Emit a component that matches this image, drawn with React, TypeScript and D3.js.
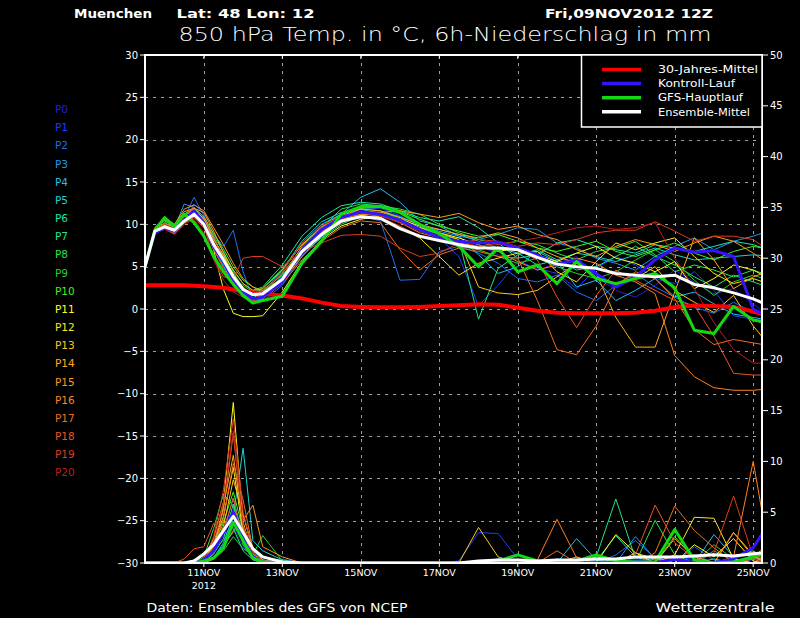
import { useEffect, useRef } from 'react';
import * as d3 from 'd3';

// forecast hours from 09NOV2012 12Z
const hours = [0, 6, 12, 18, 24, 30, 36, 42, 48, 54, 60, 66, 72, 84, 96, 108, 120, 132, 144, 156, 168, 180, 192, 204, 216, 228, 240, 252, 264, 276, 288, 300, 312, 324, 336, 348, 360, 372, 378];

// 850 hPa temperature (°C)
const tClim = [2.8, 2.8, 2.8, 2.8, 2.8, 2.75, 2.7, 2.6, 2.5, 2.3, 2.1, 1.95, 1.8, 1.6, 1.25, 0.75, 0.35, 0.25, 0.2, 0.2, 0.25, 0.35, 0.45, 0.55, 0.5, 0.15, -0.2, -0.45, -0.5, -0.5, -0.5, -0.45, -0.2, 0.2, 0.4, 0.35, 0.25, -0.3, -0.6];
const tMean = [5.0, 9.2, 9.7, 9.3, 10.4, 11.2, 10.0, 7.6, 5.8, 3.8, 2.3, 1.7, 1.8, 3.5, 6.8, 8.8, 10.4, 10.9, 10.7, 9.5, 8.6, 8.1, 7.6, 7.2, 7.2, 7.0, 6.1, 5.3, 5.0, 4.8, 4.2, 4.0, 3.8, 4.0, 2.9, 2.5, 1.9, 1.2, 0.7];
const tGfs = [5.0, 9.3, 10.8, 9.8, 11.2, 10.2, 8.6, 6.2, 4.4, 2.9, 1.6, 0.7, 1.0, 1.5, 5.4, 8.0, 11.2, 12.1, 12.1, 11.4, 10.0, 8.9, 7.4, 5.0, 7.2, 4.4, 5.2, 3.0, 5.6, 3.6, 3.0, 3.6, 4.2, 2.5, -2.5, -2.9, 0.3, -1.3, -1.5];
const tCtrl = [5.0, 9.0, 9.6, 9.2, 10.6, 11.6, 10.2, 7.4, 5.6, 3.4, 2.0, 1.2, 1.4, 3.2, 7.0, 9.4, 10.8, 11.5, 11.2, 10.5, 9.4, 8.4, 8.0, 7.8, 7.9, 7.2, 6.4, 5.2, 5.8, 4.2, 2.6, 3.8, 5.8, 7.2, 6.7, 6.9, 6.2, 0.0, -0.6];

const tP0 = [5, 9.1, 9.8, 9.2, 10.6, 11.4, 10.3, 8.0, 5.6, 3.4, 2.0, 1.4, 1.6, 3.8, 7.2, 9.3, 10.9, 11.6, 11.3, 10.4, 9.4, 8.6, 8.0, 7.6, 6.4, 5.8, 4.6, 5.4, 6.2, 3.8, 2.2, 1.4, 2.8, 4.6, 3.2, 1.8, 2.4, 0.6, -0.3];
const tP1 = [5, 9.0, 9.6, 9.0, 10.2, 12.4, 11.2, 8.6, 6.8, 3.9, 1.6, 0.8, 1.2, 3.4, 6.4, 8.8, 10.6, 11.8, 11.9, 11.0, 9.8, 8.4, 6.2, 0.4, 2.8, 5.6, 4.8, 4.2, 2.4, 4.8, 6.2, 5.2, 3.6, 3.0, 4.4, 2.2, -0.8, -1.2, -1.8];
const tP2 = [5, 9.2, 9.9, 9.4, 10.8, 13.2, 11.0, 8.8, 7.4, 9.3, 4.4, 1.2, 0.9, 2.8, 6.2, 8.5, 10.2, 11.0, 10.4, 3.4, 3.5, 6.8, 7.4, 6.6, 5.4, 3.6, 3.2, 4.0, 2.0, 1.0, 2.8, 4.2, 2.6, 1.4, 0.2, -0.5, 0.8, -0.4, -0.6];
const tP3 = [5, 9.4, 10.1, 9.6, 12.4, 12.0, 10.6, 7.8, 5.2, 3.0, 1.8, 1.0, 1.6, 3.9, 7.0, 9.1, 10.6, 11.4, 11.6, 10.9, 10.0, 9.2, 8.6, 8.2, 8.8, 9.6, 9.4, 7.8, 7.2, 6.0, 5.4, 4.6, 6.2, 7.4, 8.4, 7.0, 8.0, 8.6, 9.0];
const tP4 = [5, 9.2, 9.7, 9.1, 10.5, 11.3, 10.8, 8.4, 6.0, 4.2, 2.6, 1.6, 1.8, 4.4, 7.8, 10.0, 11.2, 13.2, 14.2, 12.6, 10.4, 9.8, 8.6, 6.4, 4.2, 5.0, 6.8, 5.6, 2.6, 3.4, 1.0, 2.2, 3.6, 1.4, 2.0, 0.6, -0.6, -1.0, -1.2];
const tP5 = [5, 8.9, 9.5, 9.3, 10.4, 11.6, 10.4, 7.2, 5.0, 3.2, 1.8, 1.3, 2.0, 4.6, 8.0, 10.3, 11.4, 11.8, 11.2, 10.2, 9.6, 9.4, 8.8, 8.0, 7.2, 6.6, 5.2, 5.8, 6.6, 6.2, 5.6, 6.4, 7.2, 6.4, 5.8, 6.0, 6.2, 6.4, 6.3];
const tP6 = [5, 9.3, 10.2, 9.5, 10.7, 11.3, 10.5, 8.2, 6.4, 4.6, 3.0, 2.2, 2.6, 5.2, 8.6, 10.8, 12.2, 12.6, 12.4, 11.6, 10.8, 10.4, 10.9, 9.6, 7.8, 6.0, 6.4, 7.8, 8.2, 7.4, 7.0, 6.6, 7.6, 7.2, 6.8, 7.4, 8.0, 7.6, 7.2];
const tP7 = [5, 9.0, 9.6, 8.9, 10.2, 10.9, 9.8, 7.4, 5.4, 3.2, 2.4, 1.8, 2.2, 4.0, 6.6, 8.4, 10.0, 11.0, 11.4, 10.8, 9.6, 8.8, 8.2, -1.2, 4.8, 6.4, 7.0, 5.8, 4.6, 5.0, 6.2, 7.4, 6.2, 5.2, 3.8, 2.6, 4.0, 3.2, 2.8];
const tP8 = [5, 9.5, 10.4, 9.7, 11.0, 11.8, 10.6, 8.6, 6.8, 4.4, 2.4, 1.6, 1.9, 4.2, 7.2, 9.6, 11.8, 12.4, 12.2, 11.8, 11.2, 10.0, 9.0, 8.2, 7.6, 8.0, 7.6, 6.6, 5.8, 6.8, 7.2, 8.0, 6.4, 4.4, 5.2, 4.6, 3.8, 4.6, 4.2];
const tP9 = [5, 9.1, 9.8, 9.0, 10.3, 11.1, 10.0, 7.6, 5.8, 3.6, 2.8, 2.0, 2.4, 4.8, 7.6, 9.8, 11.2, 11.8, 11.6, 10.6, 9.2, 8.6, 7.4, 7.0, 6.2, 5.4, 6.0, 5.0, 4.2, 3.6, 4.4, 5.8, 7.0, 5.6, 3.4, 1.6, 3.2, 4.0, 3.6];
const tP10 = [5, 9.4, 10.5, 9.8, 11.2, 11.9, 10.9, 8.9, 7.1, 5.0, 3.4, 2.6, 2.2, 3.6, 6.8, 9.0, 10.8, 11.9, 12.0, 11.5, 10.6, 9.8, 9.2, 8.6, 8.8, 8.0, 7.2, 6.8, 7.4, 8.0, 6.8, 6.2, 7.0, 7.8, 6.6, 5.8, 6.8, 7.4, 7.2];
const tP11 = [5, 9.2, 9.9, 9.2, 10.6, 11.4, 10.2, 7.0, 2.3, -0.5, -0.9, -0.9, -0.8, 2.0, 5.6, 8.2, 9.8, 10.6, 11.0, 10.6, 9.8, 9.0, 8.4, 7.6, 6.8, 7.2, 6.4, 5.6, 6.6, 7.4, 6.0, 5.4, 4.4, 5.6, 2.4, 3.6, 5.2, 4.6, 4.0];
const tP12 = [5, 9.0, 9.7, 9.3, 10.4, 11.0, 10.1, 7.8, 6.0, 4.0, 2.2, 1.2, 1.4, 3.4, 6.6, 8.8, 10.4, 11.0, 10.8, 9.6, 8.4, 6.2, 4.0, 5.4, 6.0, 6.6, 6.8, 4.4, 3.2, 5.6, 7.8, 7.0, 7.8, 8.4, 6.2, 4.2, 3.0, 3.6, 3.2];
const tP13 = [5, 9.3, 10.0, 9.4, 10.9, 11.7, 10.7, 8.3, 6.3, 4.1, 2.5, 1.6, 1.5, 3.7, 7.4, 9.7, 11.1, 11.5, 11.2, 10.4, 9.6, 9.0, 8.2, 2.6, 1.9, 1.7, 2.2, 3.8, 5.4, 4.2, 2.8, 3.6, 5.0, 2.2, 0.8, -0.4, 1.6, -2.0, -3.4];
const tP14 = [5, 9.5, 10.6, 9.9, 11.5, 11.9, 11.4, 9.2, 6.6, 4.6, 3.0, 2.2, 2.4, 4.6, 7.6, 9.6, 11.0, 11.8, 11.6, 10.8, 10.0, 9.4, 8.8, 8.4, 9.0, 8.4, 7.2, 6.2, 5.4, 4.2, -1.0, -4.5, -4.5, 2.0, 8.4, 5.8, 2.4, 3.8, 4.2];
const tP15 = [5, 9.6, 10.8, 10.0, 11.8, 12.3, 11.6, 9.6, 7.6, 5.4, 3.6, 2.6, 2.0, 3.2, 6.2, 8.6, 10.2, 11.2, 11.4, 11.6, 11.2, 10.8, 11.3, 10.2, 9.4, 9.8, 8.8, 8.2, 7.0, 6.2, 7.4, 8.2, 7.6, 6.8, 7.8, 8.6, 8.0, 6.6, 5.8];
const tP16 = [5, 9.1, 9.9, 9.1, 10.5, 11.5, 10.5, 7.9, 5.9, 3.8, 2.1, 1.3, 1.6, 3.6, 6.8, 9.0, 10.6, 11.2, 11.0, 10.2, 9.0, 8.4, 7.8, 7.4, 6.8, 5.6, 4.6, 5.2, 6.0, 5.4, 4.0, 3.2, 1.8, -5.5, -8.0, -9.3, -9.6, -9.6, -9.5];
const tP17 = [5, 9.2, 10.2, 9.6, 11.0, 12.0, 10.9, 8.4, 6.1, 3.6, 1.9, 1.0, 1.2, 3.0, 5.8, 8.0, 9.6, 10.4, 10.2, 7.0, 4.6, 6.4, 7.2, 6.8, 6.2, 6.0, 1.0, -4.8, -5.4, -2.0, 2.8, 4.4, 3.6, 1.2, -2.4, -4.2, -3.6, -4.0, -4.2];
const tP18 = [5, 9.0, 9.5, 8.9, 10.1, 10.8, 9.6, 7.0, 4.8, 3.0, 2.0, 1.6, 2.2, 4.2, 7.0, 9.2, 10.6, 11.0, 10.8, 9.8, 8.6, 8.0, 7.6, 7.4, 7.8, 7.0, 5.8, 1.4, -2.2, 1.6, 4.6, 3.4, 2.2, 1.0, 0.4, -3.2, -7.6, -7.8, -7.8];
const tP19 = [5, 9.3, 10.0, 9.5, 11.0, 11.4, 9.8, 6.0, 3.8, 3.6, 6.0, 6.2, 6.2, 5.0, 6.8, 7.8, 8.7, 8.8, 8.6, 7.2, 6.2, 6.6, 7.8, 8.2, 8.0, 7.4, 7.8, 7.6, 8.2, 9.0, 9.3, 9.3, 10.3, 9.2, 8.0, 8.6, 8.6, 8.2, 7.4];
const tP20 = [5, 9.0, 9.4, 8.8, 10.0, 10.6, 9.0, 5.8, 3.4, 2.0, 1.4, 1.2, 1.8, 4.4, 7.8, 9.8, 11.0, 11.4, 11.0, 10.2, 9.2, 8.6, 8.0, 7.4, 7.6, 8.0, 8.4, 9.0, 9.6, 9.8, 9.4, 9.6, 10.2, 6.0, 2.4, -1.6, -4.8, -6.4, -6.4];

// 6h precipitation (mm)
const rMean = [0, 0, 0, 0, 0, 0.2, 0.9, 1.8, 3.2, 4.6, 3.0, 1.4, 0.6, 0.1, 0, 0, 0, 0, 0, 0, 0, 0, 0, 0.2, 0.3, 0.3, 0.2, 0.3, 0.3, 0.4, 0.4, 0.6, 0.6, 0.6, 0.7, 0.8, 0.7, 0.9, 1.0];
const rGfs = [0, 0, 0, 0, 0, 0, 0.2, 0.5, 1.5, 4.0, 2.2, 0.5, 0.1, 0, 0, 0, 0, 0, 0, 0, 0, 0, 0, 0, 0.2, 0.8, 0.2, 0.1, 0.2, 0.8, 0.2, 0.1, 0.1, 3.3, 0.3, 0, 0.1, 0.6, 1.0];
const rCtrl = [0, 0, 0, 0, 0, 0, 0.3, 1.2, 3.0, 5.0, 2.4, 0.6, 0.1, 0, 0, 0, 0, 0, 0, 0, 0, 0, 0, 0, 0, 0, 0, 0.2, 0, 0, 0, 0.3, 0, 0.4, 0, 0, 0.4, 1.5, 3.0];

const rP0 = [0, 0, 0, 0, 0, 0, 0.2, 1.0, 2.8, 3.6, 1.6, 0.4, 0.1, 0, 0, 0, 0, 0, 0, 0, 0, 0, 0, 0, 0, 0, 0.2, 0, 0, 0, 0, 0.4, 0, 0, 0.6, 0, 0, 0.3, 0.5];
const rP1 = [0, 0, 0, 0, 0, 0, 0.1, 0.8, 3.4, 5.2, 2.0, 0.6, 0.2, 0.4, 0, 0, 0, 0, 0, 0, 0, 0, 0.2, 3.0, 2.9, 0.4, 0, 0, 0, 0.3, 0, 0, 0, 0.8, 0.2, 0, 0, 0.6, 0.2];
const rP2 = [0, 0, 0, 0, 0, 0, 0.3, 1.4, 2.2, 4.4, 3.6, 0.8, 0.2, 0, 0, 0, 0, 0, 0, 0, 0, 0, 0, 0.2, 0, 0, 0, 0.4, 0, 0, 0.8, 2.2, 0.5, 0, 1.6, 0.3, 0, 0.8, 0.4];
const rP3 = [0, 0, 0, 0, 0, 0, 0, 0.6, 1.8, 3.0, 4.8, 1.2, 0.3, 0, 0, 0, 0, 0, 0, 0, 0, 0, 0, 0, 0, 0, 0, 0, 0, 0.6, 0, 2.6, 0.4, 0, 0, 1.2, 0.2, 0, 0];
const rP4 = [0, 0, 0, 0, 0, 0, 0.2, 1.2, 3.0, 6.4, 2.4, 0.6, 0.1, 0, 0, 0, 0, 0, 0, 0, 0, 0, 0, 0, 0.4, 0.2, 0, 0, 2.4, 0.3, 0, 0, 0.6, 0, 0, 2.8, 0.6, 0.8, 0.4];
const rP5 = [0, 0, 0, 0, 0, 0, 0, 0.5, 2.0, 4.6, 11.3, 2.2, 1.2, 0.3, 0, 0, 0, 0, 0, 0, 0, 0, 0, 0, 0, 0, 0, 0.2, 0, 0, 0.4, 0, 0, 0.3, 0.8, 0, 0, 0, 0.2];
const rP6 = [0, 0, 0, 0, 0, 0.3, 0.1, 0.9, 2.4, 5.8, 2.8, 0.7, 0.2, 0, 0, 0, 0, 0, 0, 0, 0, 0, 0, 0, 0, 0, 0, 0, 0, 0.2, 2.7, 0.6, 0, 0, 0, 0.4, 0, 0.6, 0.3];
const rP7 = [0, 0, 0, 0, 0, 0.2, 0.4, 2.2, 4.2, 3.4, 1.2, 0.3, 0, 0, 0, 0, 0, 0, 0, 0, 0, 0, 0, 0, 0.2, 0, 0, 0, 0, 0.6, 6.3, 0.4, 0, 0, 0, 0, 0.3, 0, 0];
const rP8 = [0, 0, 0, 0, 0, 0, 0.6, 3.4, 6.8, 5.6, 1.8, 0.4, 0.1, 0, 0, 0, 0, 0, 0, 0, 0, 0, 0, 0, 0, 0.2, 0, 0, 0, 0, 0, 0, 4.2, 0.8, 0, 0, 0.5, 1.2, 0.6];
const rP9 = [0, 0, 0, 0, 0, 0, 0, 0.4, 1.2, 2.6, 1.4, 0.8, 2.7, 0.2, 0, 0, 0, 0, 0, 0, 0, 0, 0, 0, 0, 0, 0, 0, 0, 0, 0, 0, 0, 0.6, 0, 1.8, 0.4, 0, 0.2];
const rP10 = [0, 0, 0, 0, 0, 0, 0.2, 1.6, 4.0, 7.0, 3.2, 0.9, 0.2, 0, 0, 0, 0, 0, 0, 0, 0, 0, 0, 0, 0, 0, 0.3, 0, 0, 0, 0, 0.4, 0, 2.6, 0.4, 0, 0, 0.4, 0.8];
const rP11 = [0, 0, 0, 0, 0, 0, 0.4, 2.4, 6.0, 15.8, 4.0, 0.8, 0.2, 0, 0, 0, 0, 0, 0, 0, 0, 0, 0, 0, 0, 0, 0, 0, 0, 0, 2.8, 1.0, 0, 0, 1.8, 0.6, 2.4, 0.2, 0];
const rP12 = [0, 0, 0, 0, 0, 0, 0.3, 1.8, 4.6, 9.4, 3.0, 0.6, 0.1, 0, 0, 0, 0, 0, 0, 0, 0, 0, 0, 0, 0, 0, 0, 0.2, 0, 0, 0, 0, 0, 0.8, 4.5, 4.4, 0.4, 0, 0.6];
const rP13 = [0, 0, 0, 0, 0, 0, 0.2, 1.2, 3.6, 8.2, 4.8, 1.4, 0.3, 0, 0, 0, 0, 0, 0, 0, 0, 0, 0, 3.5, 0.6, 0, 0, 0, 0, 0, 0, 1.0, 0.4, 0, 0, 0, 3.0, 0.8, 0];
const rP14 = [0, 0, 0, 0, 0, 0, 0.1, 1.0, 5.6, 10.6, 3.6, 1.0, 0.2, 0, 0, 0, 0, 0, 0, 0, 0, 0, 0, 0, 0, 0, 0, 0, 0.6, 0, 0, 0, 0, 2.4, 0.6, 0, 0, 0.6, 1.4];
const rP15 = [0, 0, 0, 0, 0, 0, 0, 0.4, 1.6, 3.2, 4.2, 5.7, 1.6, 0.6, 0, 0, 0, 0, 0, 0, 0, 0, 0, 0, 0, 0, 0, 0, 0, 0, 0, 0, 0.4, 0, 0, 0, 3.0, 0.6, 0.2];
const rP16 = [0, 0, 0, 0, 0, 0, 0.3, 2.0, 5.2, 12.8, 3.4, 0.8, 0.2, 0, 0, 0, 0, 0, 0, 0, 0, 0, 0, 0, 0, 0, 0.3, 4.3, 0.5, 0, 0, 0, 0, 0, 0.2, 0, 0.6, 10.0, 4.5];
const rP17 = [0, 0, 0, 0, 0, 0, 0.2, 1.6, 4.4, 9.8, 6.2, 1.4, 0.2, 0, 0, 0, 0, 0, 0, 0, 0, 0, 0, 0, 0, 0, 0, 1.2, 0, 0, 0, 0, 1.0, 5.6, 3.2, 1.5, 0, 0, 0];
const rP18 = [0, 0, 0, 0, 0.4, 1.4, 1.6, 3.9, 3.2, 6.4, 2.0, 0.5, 0.1, 0, 0, 0, 0, 0, 0, 0, 0, 0, 0, 0, 0, 0, 0, 0, 0, 0, 0, 0.8, 5.7, 2.0, 0.4, 0, 0, 0.4, 0];
const rP19 = [0, 0, 0, 0, 0, 0, 0.4, 2.6, 7.2, 14.2, 5.0, 1.0, 0.2, 0, 0, 0, 0, 0, 0, 0, 0, 0, 0, 0, 0, 0, 0, 0, 0, 0, 0, 0, 0, 0.4, 0, 1.0, 6.6, 0.6, 0];
const rP20 = [0, 0, 0, 0, 0, 0, 0.3, 2.2, 6.0, 13.0, 3.8, 0.8, 0.1, 0, 0, 0, 0, 0, 0, 0, 0, 0, 0, 0, 0, 0, 0, 0, 0, 0, 0, 0, 0, 0.6, 0, 0, 0.4, 1.0, 0.3];

const memberNames = ['P0', 'P1', 'P2', 'P3', 'P4', 'P5', 'P6', 'P7', 'P8', 'P9', 'P10', 'P11', 'P12', 'P13', 'P14', 'P15', 'P16', 'P17', 'P18', 'P19', 'P20'];
const memberColors = ['#2a1ed2', '#1e3cff', '#1e6ef0', '#1e96f0', '#1ebef0', '#1ed2d2', '#1ee6a0', '#1ee682', '#28e646', '#28d228', '#46f01e', '#ffff1e', '#ffe61e', '#ffc81e', '#ffaa1e', '#ff961e', '#ff821e', '#f06e1e', '#f05028', '#dc3c1e', '#be1e1e'];
const memberTemps = [tP0, tP1, tP2, tP3, tP4, tP5, tP6, tP7, tP8, tP9, tP10, tP11, tP12, tP13, tP14, tP15, tP16, tP17, tP18, tP19, tP20];
const memberRain = [rP0, rP1, rP2, rP3, rP4, rP5, rP6, rP7, rP8, rP9, rP10, rP11, rP12, rP13, rP14, rP15, rP16, rP17, rP18, rP19, rP20];

const legendLabels = ['30-Jahres-Mittel', 'Kontroll-Lauf', 'GFS-Hauptlauf', 'Ensemble-Mittel'];
const legendColors = ['#ff0000', '#3214ff', '#14d814', '#ffffff'];
const legendWidths = [100, 77, 85, 92];

export default function App() {
  const svgRef = useRef<SVGSVGElement>(null);

  useEffect(() => {
    if (!svgRef.current) return;
    const width = 800;
    const height = 618;
    const m = { left: 145, right: 762, top: 55, bottom: 563 };
    const font = 'DejaVu Sans, sans-serif';

    const svg = d3.select(svgRef.current);
    svg.selectAll('*').remove();
    svg.attr('width', width).attr('height', height).style('font-family', font);

    const t0 = Date.UTC(2012, 10, 9, 12);
    const toDate = (h: number) => new Date(t0 + h * 3600 * 1000);

    const x = d3.scaleUtc().domain([toDate(0), toDate(378)]).range([m.left, 763]);
    const yT = d3.scaleLinear().domain([-30, 30]).range([m.bottom, m.top]);
    const yR = d3.scaleLinear().domain([0, 50]).range([m.bottom, m.top]);

    svg.append('rect').attr('width', width).attr('height', height).attr('fill', '#000');

    svg.append('defs').append('clipPath').attr('id', 'plotclip')
      .append('rect')
      .attr('x', m.left).attr('y', m.top)
      .attr('width', m.right - m.left).attr('height', m.bottom - m.top);

    const dayTicks = x.ticks(d3.utcDay.every(2)!);
    const fmtDay = d3.utcFormat('%d%b');

    // grid
    const grid = svg.append('g').attr('stroke', '#a0a0a0').attr('stroke-width', 1)
      .attr('stroke-dasharray', '3,5').attr('shape-rendering', 'crispEdges');
    grid.selectAll('line.v').data(dayTicks).enter().append('line')
      .attr('x1', (d) => Math.round(x(d)) + 0.5).attr('x2', (d) => Math.round(x(d)) + 0.5)
      .attr('y1', m.top).attr('y2', m.bottom);
    grid.selectAll('line.h').data(d3.range(-25, 30, 5)).enter().append('line')
      .attr('x1', m.left).attr('x2', m.right)
      .attr('y1', (d) => Math.round(yT(d)) + 0.5).attr('y2', (d) => Math.round(yT(d)) + 0.5);

    const plot = svg.append('g').attr('clip-path', 'url(#plotclip)');

    const lineT = d3.line<number>()
      .x((_, i) => x(toDate(hours[i])))
      .y((v) => yT(v));
    const lineR = d3.line<number>()
      .x((_, i) => x(toDate(hours[i])))
      .y((v) => yR(v));

    // ensemble members
    memberTemps.forEach((temps, i) => {
      plot.append('path').attr('d', lineR(memberRain[i])).attr('fill', 'none')
        .attr('stroke', memberColors[i]).attr('stroke-width', 1);
      plot.append('path').attr('d', lineT(temps)).attr('fill', 'none')
        .attr('stroke', memberColors[i]).attr('stroke-width', 1);
    });

    // climatology
    plot.append('path').attr('d', lineT(tClim)).attr('fill', 'none')
      .attr('stroke', legendColors[0]).attr('stroke-width', 4);

    // control, GFS main run, ensemble mean
    const thick: [number[], number[], string][] = [
      [tCtrl, rCtrl, legendColors[1]],
      [tGfs, rGfs, legendColors[2]],
      [tMean, rMean, legendColors[3]],
    ];
    thick.forEach(([t, r, c]) => {
      plot.append('path').attr('d', lineR(r)).attr('fill', 'none')
        .attr('stroke', c).attr('stroke-width', 3).attr('stroke-linejoin', 'round');
      plot.append('path').attr('d', lineT(t)).attr('fill', 'none')
        .attr('stroke', c).attr('stroke-width', 3).attr('stroke-linejoin', 'round');
    });

    // frame
    svg.append('rect')
      .attr('x', m.left).attr('y', m.top)
      .attr('width', m.right - m.left).attr('height', m.bottom - m.top)
      .attr('fill', 'none').attr('stroke', '#fff').attr('stroke-width', 2);

    // left axis
    const leftAx = svg.append('g').attr('fill', '#fff').attr('font-size', 10);
    d3.range(-30, 31, 5).forEach((v) => {
      leftAx.append('line').attr('x1', m.left - 5).attr('x2', m.left)
        .attr('y1', yT(v)).attr('y2', yT(v)).attr('stroke', '#fff');
      leftAx.append('text').attr('x', m.left - 7).attr('y', yT(v)).attr('dy', '0.36em')
        .attr('text-anchor', 'end').text(d3.format('d')(v));
    });

    // right axis
    const rightAx = svg.append('g').attr('fill', '#fff').attr('font-size', 10);
    d3.range(0, 51, 5).forEach((v) => {
      rightAx.append('line').attr('x1', m.right).attr('x2', m.right + 6)
        .attr('y1', yR(v)).attr('y2', yR(v)).attr('stroke', '#fff');
      rightAx.append('text').attr('x', m.right + 8).attr('y', yR(v)).attr('dy', '0.36em')
        .text(String(v));
    });

    // date axis
    const dateAx = svg.append('g').attr('fill', '#fff').attr('font-size', 9.5);
    dayTicks.forEach((d, i) => {
      const px = x(d);
      dateAx.append('line').attr('x1', px).attr('x2', px).attr('y1', m.bottom).attr('y2', m.bottom + 4)
        .attr('stroke', '#fff');
      dateAx.append('line').attr('x1', px).attr('x2', px).attr('y1', m.top).attr('y2', m.top + 4)
        .attr('stroke', '#fff');
      dateAx.append('text').attr('x', px).attr('y', 576).attr('text-anchor', 'middle')
        .text(fmtDay(d).toUpperCase());
      if (i === 0) {
        dateAx.append('text').attr('x', px).attr('y', 589).attr('text-anchor', 'middle')
          .text(d3.utcFormat('%Y')(d));
      }
    });

    // member labels
    const labels = svg.append('g').attr('font-size', 10.5);
    memberNames.forEach((name, i) => {
      labels.append('text').attr('x', 55).attr('y', 109.3 + i * 18.17).attr('dy', '0.36em')
        .attr('fill', memberColors[i]).text(name);
    });

    // legend
    const lg = svg.append('g');
    lg.append('rect').attr('x', 581.5).attr('y', m.top).attr('width', m.right - 581.5).attr('height', 72)
      .attr('fill', '#000').attr('stroke', '#fff').attr('stroke-width', 1.5);
    legendLabels.forEach((lab, i) => {
      const ly = 69.5 + i * 14.1;
      lg.append('line').attr('x1', 602).attr('x2', 641).attr('y1', ly).attr('y2', ly)
        .attr('stroke', legendColors[i]).attr('stroke-width', 3.5);
      lg.append('text').attr('x', 658).attr('y', ly).attr('dy', '0.36em')
        .attr('fill', '#fff').attr('font-size', 10.5)
        .attr('textLength', legendWidths[i]).attr('lengthAdjust', 'spacingAndGlyphs')
        .text(lab);
    });

    // header texts
    const head = svg.append('g').attr('fill', '#fff');
    head.append('text').attr('x', 74).attr('y', 17.5).attr('font-size', 13).attr('font-weight', 'bold')
      .attr('textLength', 78).attr('lengthAdjust', 'spacingAndGlyphs').text('Muenchen');
    head.append('text').attr('x', 176.5).attr('y', 17.5).attr('font-size', 13).attr('font-weight', 'bold')
      .attr('textLength', 138).attr('lengthAdjust', 'spacingAndGlyphs').text('Lat: 48 Lon: 12');
    head.append('text').attr('x', 545).attr('y', 17.5).attr('font-size', 13).attr('font-weight', 'bold')
      .attr('textLength', 168).attr('lengthAdjust', 'spacingAndGlyphs').text('Fri,09NOV2012 12Z');
    head.append('text').attr('x', 178.5).attr('y', 40.5).attr('font-size', 19.5).attr('font-weight', 200)
      .attr('textLength', 533).attr('lengthAdjust', 'spacingAndGlyphs')
      .text('850 hPa Temp. in °C, 6h-Niederschlag in mm');

    // footer
    head.append('text').attr('x', 146.5).attr('y', 612).attr('font-size', 12.5)
      .attr('textLength', 261).attr('lengthAdjust', 'spacingAndGlyphs')
      .text('Daten: Ensembles des GFS von NCEP');
    head.append('text').attr('x', 655.5).attr('y', 612).attr('font-size', 13)
      .attr('textLength', 119).attr('lengthAdjust', 'spacingAndGlyphs')
      .text('Wetterzentrale');
  }, []);

  return (
    <div style={{ position: 'absolute', left: 0, top: 0, width: 800, height: 618, background: '#000' }}>
      <svg ref={svgRef} style={{ display: 'block' }} />
    </div>
  );
}
